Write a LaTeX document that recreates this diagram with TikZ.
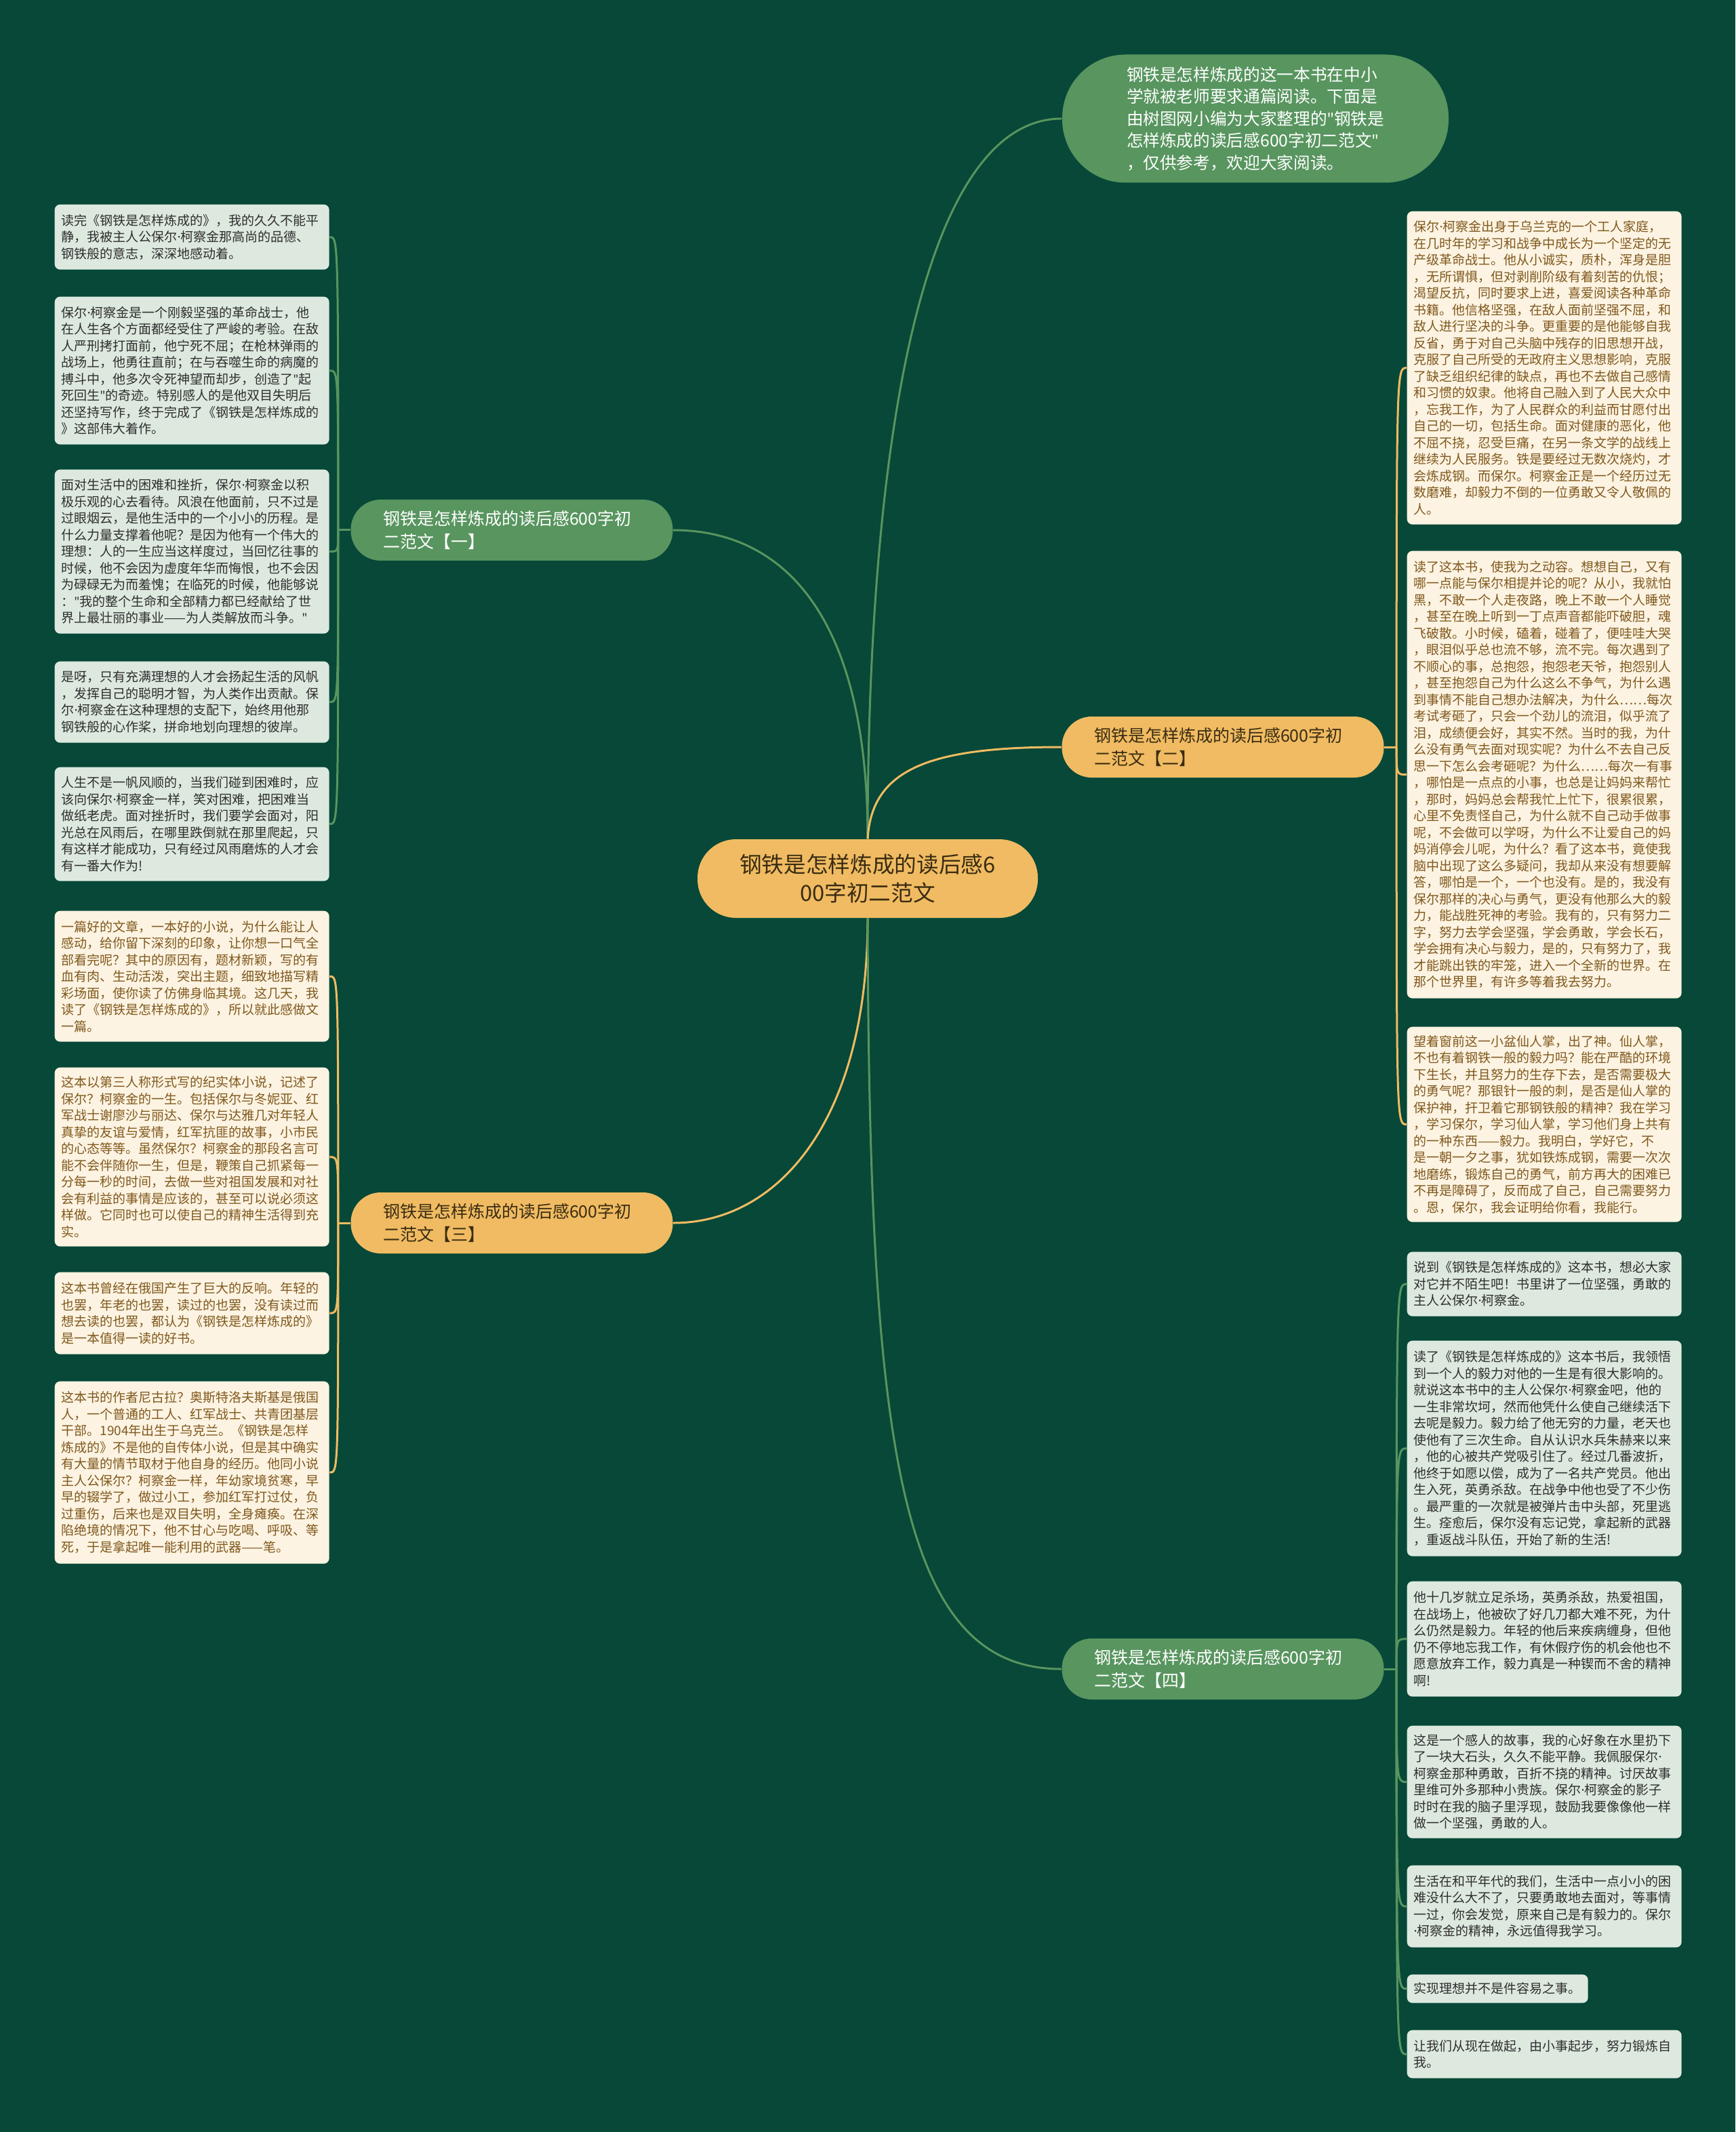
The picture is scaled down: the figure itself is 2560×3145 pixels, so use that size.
\documentclass[tikz,border=0pt]{standalone}
\usepackage{fontspec}
\setmainfont{Noto Sans CJK SC}
\newfontfamily\lf{Noto Sans}
\newcommand\md{{\lf ·}}
\newcommand\qt{{\lf "}}
\definecolor{bgc}{HTML}{074838}
\definecolor{ngreen}{HTML}{58955F}
\definecolor{norange}{HTML}{F0BB62}
\definecolor{lgreen}{HTML}{DDE9DF}
\definecolor{lcream}{HTML}{FCF3E2}
\definecolor{lgtext}{HTML}{2E2E2E}
\definecolor{lctext}{HTML}{80581C}
\definecolor{otext}{HTML}{3A2C12}
\begin{document}
\begin{tikzpicture}[x=0.3pt,y=-0.3pt,
  leafbase/.style={anchor=north west, rounded corners=2.4pt, align=left, inner xsep=3pt, inner ysep=2pt, font=\fontsize{5.7pt}{7.35pt}\selectfont},
  leafg/.style={leafbase, fill=lgreen, text=lgtext, text width=115.5pt},
  leafc/.style={leafbase, fill=lcream, text=lctext, text width=115.5pt},
  lh/.style={minimum height=#1*0.3pt},
  branchbase/.style={rounded corners=13.2pt, minimum height=27pt, inner xsep=14.25pt, text width=114pt, align=left, font=\fontsize{7.5pt}{10.2pt}\selectfont},
  branchg/.style={branchbase, fill=ngreen, text=white},
  brancho/.style={branchbase, fill=norange, text=otext},
  gl/.style={draw=ngreen, line width=0.9pt},
  ol/.style={draw=norange, line width=0.9pt}
]
\path[use as bounding box, fill=bgc] (0,0) rectangle (2560,3145);

% central and top
\node[fill=norange, text=otext, rounded corners=17pt, minimum width=150.6pt, minimum height=34.8pt, align=center, font=\fontsize{9.8pt}{12.6pt}\selectfont] (c) at (1280,1296) {钢铁是怎样炼成的读后感6\\00字初二范文};
\node[fill=ngreen, text=white, rounded corners=28pt, minimum width=171pt, minimum height=56.7pt, align=left, font=\fontsize{7.4pt}{9.75pt}\selectfont] (top) at (1852,175) {钢铁是怎样炼成的这一本书在中小\\
学就被老师要求通篇阅读。下面是\\
由树图网小编为大家整理的\qt 钢铁是\\
怎样炼成的读后感600字初二范文\qt\\
，仅供参考，欢迎大家阅读。};

% branches
\node[branchg] (b1) at (755,782) {钢铁是怎样炼成的读后感600字初\\二范文【一】};
\node[brancho] (b2) at (1804,1102) {钢铁是怎样炼成的读后感600字初\\二范文【二】};
\node[brancho] (b3) at (755,1804) {钢铁是怎样炼成的读后感600字初\\二范文【三】};
\node[branchg] (b4) at (1804,2462) {钢铁是怎样炼成的读后感600字初\\二范文【四】};

% left leaves of [一]
\node[leafg, lh=96] (l1) at (80,301) {读完《钢铁是怎样炼成的》，我的久久不能平\\
静，我被主人公保尔\md 柯察金那高尚的品德、\\
钢铁般的意志，深深地感动着。};
\node[leafg, lh=218] (l2) at (80,437) {保尔\md 柯察金是一个刚毅坚强的革命战士，他\\
在人生各个方面都经受住了严峻的考验。在敌\\
人严刑拷打面前，他宁死不屈；在枪林弹雨的\\
战场上，他勇往直前；在与吞噬生命的病魔的\\
搏斗中，他多次令死神望而却步，创造了\qt 起\\
死回生\qt 的奇迹。特别感人的是他双目失明后\\
还坚持写作，终于完成了《钢铁是怎样炼成的\\
》这部伟大着作。};
\node[leafg, lh=242] (l3) at (80,692) {面对生活中的困难和挫折，保尔\md 柯察金以积\\
极乐观的心去看待。风浪在他面前，只不过是\\
过眼烟云，是他生活中的一个小小的历程。是\\
什么力量支撑着他呢？是因为他有一个伟大的\\
理想：人的一生应当这样度过，当回忆往事的\\
时候，他不会因为虚度年华而悔恨，也不会因\\
为碌碌无为而羞愧；在临死的时候，他能够说\\
：\qt 我的整个生命和全部精力都已经献给了世\\
界上最壮丽的事业——为人类解放而斗争。\qt};
\node[leafg, lh=120] (l4) at (80,975) {是呀，只有充满理想的人才会扬起生活的风帆\\
，发挥自己的聪明才智，为人类作出贡献。保\\
尔\md 柯察金在这种理想的支配下，始终用他那\\
钢铁般的心作桨，拼命地划向理想的彼岸。};
\node[leafg, lh=168] (l5) at (80,1131) {人生不是一帆风顺的，当我们碰到困难时，应\\
该向保尔\md 柯察金一样，笑对困难，把困难当\\
做纸老虎。面对挫折时，我们要学会面对，阳\\
光总在风雨后，在哪里跌倒就在那里爬起，只\\
有这样才能成功，只有经过风雨磨炼的人才会\\
有一番大作为!};

% left leaves of [三]
\node[leafc, lh=193] (l6) at (80,1343) {一篇好的文章，一本好的小说，为什么能让人\\
感动，给你留下深刻的印象，让你想一口气全\\
部看完呢？其中的原因有，题材新颖，写的有\\
血有肉、生动活泼，突出主题，细致地描写精\\
彩场面，使你读了仿佛身临其境。这几天，我\\
读了《钢铁是怎样炼成的》，所以就此感做文\\
一篇。};
\node[leafc, lh=264] (l7) at (80,1574) {这本以第三人称形式写的纪实体小说，记述了\\
保尔？柯察金的一生。包括保尔与冬妮亚、红\\
军战士谢廖沙与丽达、保尔与达雅几对年轻人\\
真挚的友谊与爱情，红军抗匪的故事，小市民\\
的心态等等。虽然保尔？柯察金的那段名言可\\
能不会伴随你一生，但是，鞭策自己抓紧每一\\
分每一秒的时间，去做一些对祖国发展和对社\\
会有利益的事情是应该的，甚至可以说必须这\\
样做。它同时也可以使自己的精神生活得到充\\
实。};
\node[leafc, lh=121] (l8) at (80,1876) {这本书曾经在俄国产生了巨大的反响。年轻的\\
也罢，年老的也罢，读过的也罢，没有读过而\\
想去读的也罢，都认为《钢铁是怎样炼成的》\\
是一本值得一读的好书。};
\node[leafc, lh=269] (l9) at (80,2037) {这本书的作者尼古拉？奥斯特洛夫斯基是俄国\\
人，一个普通的工人、红军战士、共青团基层\\
干部。1904年出生于乌克兰。《钢铁是怎样\\
炼成的》不是他的自传体小说，但是其中确实\\
有大量的情节取材于他自身的经历。他同小说\\
主人公保尔？柯察金一样，年幼家境贫寒，早\\
早的辍学了，做过小工，参加红军打过仗，负\\
过重伤，后来也是双目失明，全身瘫痪。在深\\
陷绝境的情况下，他不甘心与吃喝、呼吸、等\\
死，于是拿起唯一能利用的武器——笔。};

% right leaves of [二]
\node[leafc, lh=462] (r1) at (2075,311) {保尔\md 柯察金出身于乌兰克的一个工人家庭，\\
在几时年的学习和战争中成长为一个坚定的无\\
产级革命战士。他从小诚实，质朴，浑身是胆\\
，无所谓惧，但对剥削阶级有着刻苦的仇恨；\\
渴望反抗，同时要求上进，喜爱阅读各种革命\\
书籍。他信格坚强，在敌人面前坚强不屈，和\\
敌人进行坚决的斗争。更重要的是他能够自我\\
反省，勇于对自己头脑中残存的旧思想开战，\\
克服了自己所受的无政府主义思想影响，克服\\
了缺乏组织纪律的缺点，再也不去做自己感情\\
和习惯的奴隶。他将自己融入到了人民大众中\\
，忘我工作，为了人民群众的利益而甘愿付出\\
自己的一切，包括生命。面对健康的恶化，他\\
不屈不挠，忍受巨痛，在另一条文学的战线上\\
继续为人民服务。铁是要经过无数次烧灼，才\\
会炼成钢。而保尔。柯察金正是一个经历过无\\
数磨难，却毅力不倒的一位勇敢又令人敬佩的\\
人。};
\node[leafc, lh=660] (r2) at (2075,812) {读了这本书，使我为之动容。想想自己，又有\\
哪一点能与保尔相提并论的呢？从小，我就怕\\
黑，不敢一个人走夜路，晚上不敢一个人睡觉\\
，甚至在晚上听到一丁点声音都能吓破胆，魂\\
飞破散。小时候，磕着，碰着了，便哇哇大哭\\
，眼泪似乎总也流不够，流不完。每次遇到了\\
不顺心的事，总抱怨，抱怨老天爷，抱怨别人\\
，甚至抱怨自己为什么这么不争气，为什么遇\\
到事情不能自己想办法解决，为什么……每次\\
考试考砸了，只会一个劲儿的流泪，似乎流了\\
泪，成绩便会好，其实不然。当时的我，为什\\
么没有勇气去面对现实呢？为什么不去自己反\\
思一下怎么会考砸呢？为什么……每次一有事\\
，哪怕是一点点的小事，也总是让妈妈来帮忙\\
，那时，妈妈总会帮我忙上忙下，很累很累，\\
心里不免责怪自己，为什么就不自己动手做事\\
呢，不会做可以学呀，为什么不让爱自己的妈\\
妈消停会儿呢，为什么？看了这本书，竟使我\\
脑中出现了这么多疑问，我却从来没有想要解\\
答，哪怕是一个，一个也没有。是的，我没有\\
保尔那样的决心与勇气，更没有他那么大的毅\\
力，能战胜死神的考验。我有的，只有努力二\\
字，努力去学会坚强，学会勇敢，学会长石，\\
学会拥有决心与毅力，是的，只有努力了，我\\
才能跳出铁的牢笼，进入一个全新的世界。在\\
那个世界里，有许多等着我去努力。};
\node[leafc, lh=288] (r3) at (2075,1514) {望着窗前这一小盆仙人掌，出了神。仙人掌，\\
不也有着钢铁一般的毅力吗？能在严酷的环境\\
下生长，并且努力的生存下去，是否需要极大\\
的勇气呢？那银针一般的刺，是否是仙人掌的\\
保护神，扞卫着它那钢铁般的精神？我在学习\\
，学习保尔，学习仙人掌，学习他们身上共有\\
的一种东西——毅力。我明白，学好它，不\\
是一朝一夕之事，犹如铁炼成钢，需要一次次\\
地磨练，锻炼自己的勇气，前方再大的困难已\\
不再是障碍了，反而成了自己，自己需要努力\\
。恩，保尔，我会证明给你看，我能行。};

% right leaves of [四]
\node[leafg, lh=95] (r4) at (2075,1846) {说到《钢铁是怎样炼成的》这本书，想必大家\\
对它并不陌生吧！书里讲了一位坚强，勇敢的\\
主人公保尔\md 柯察金。};
\node[leafg, lh=318] (r5) at (2075,1977) {读了《钢铁是怎样炼成的》这本书后，我领悟\\
到一个人的毅力对他的一生是有很大影响的。\\
就说这本书中的主人公保尔\md 柯察金吧，他的\\
一生非常坎坷，然而他凭什么使自己继续活下\\
去呢是毅力。毅力给了他无穷的力量，老天也\\
使他有了三次生命。自从认识水兵朱赫来以来\\
，他的心被共产党吸引住了。经过几番波折，\\
他终于如愿以偿，成为了一名共产党员。他出\\
生入死，英勇杀敌。在战争中他也受了不少伤\\
。最严重的一次就是被弹片击中头部，死里逃\\
生。痊愈后，保尔没有忘记党，拿起新的武器\\
，重返战斗队伍，开始了新的生活!};
\node[leafg, lh=170] (r6) at (2075,2332) {他十几岁就立足杀场，英勇杀敌，热爱祖国，\\
在战场上，他被砍了好几刀都大难不死，为什\\
么仍然是毅力。年轻的他后来疾病缠身，但他\\
仍不停地忘我工作，有休假疗伤的机会他也不\\
愿意放弃工作，毅力真是一种锲而不舍的精神\\
啊!};
\node[leafg, lh=166] (r7) at (2075,2545) {这是一个感人的故事，我的心好象在水里扔下\\
了一块大石头，久久不能平静。我佩服保尔\md\\
柯察金那种勇敢，百折不挠的精神。讨厌故事\\
里维可外多那种小贵族。保尔\md 柯察金的影子\\
时时在我的脑子里浮现，鼓励我要像像他一样\\
做一个坚强，勇敢的人。};
\node[leafg, lh=121] (r8) at (2075,2751) {生活在和平年代的我们，生活中一点小小的困\\
难没什么大不了，只要勇敢地去面对，等事情\\
一过，你会发觉，原来自己是有毅力的。保尔\\
\md 柯察金的精神，永远值得我学习。};
\node[leafbase, fill=lgreen, text=lgtext, lh=42] (r9) at (2075,2912) {实现理想并不是件容易之事。};
\node[leafg, lh=71] (r10) at (2075,2994) {让我们从现在做起，由小事起步，努力锻炼自\\
我。};

% main connectors
\draw[gl] (c.north) .. controls (1280,700) and (1350,175) .. (top.west);
\draw[gl] (c.north) .. controls (1280,900) and (1150,782) .. (b1.east);
\draw[ol] (c.north) .. controls (1286,1135) and (1370,1102) .. (b2.west);
\draw[ol] (c.south) .. controls (1280,1650) and (1150,1804) .. (b3.east);
\draw[gl] (c.south) .. controls (1282,2150) and (1330,2462) .. (b4.west);

% junctions
\coordinate (j1) at ([xshift=-5.4pt]b1.west);
\coordinate (j2) at ([xshift=5.4pt]b2.east);
\coordinate (j3) at ([xshift=-5.4pt]b3.west);
\coordinate (j4) at ([xshift=5.4pt]b4.east);
\draw[gl] (b1.west) -- (j1);
\draw[ol] (b2.east) -- (j2);
\draw[ol] (b3.west) -- (j3);
\draw[gl] (b4.east) -- (j4);

\foreach \l in {l1,l2,l3,l4,l5}
  \draw[gl] (j1) .. controls (j1 |- \l.east) .. (\l.east);
\foreach \l in {r1,r2,r3}
  \draw[ol] (j2) .. controls (j2 |- \l.west) .. (\l.west);
\foreach \l in {l6,l7,l8,l9}
  \draw[ol] (j3) .. controls (j3 |- \l.east) .. (\l.east);
\foreach \l in {r4,r5,r6,r7,r8,r9,r10}
  \draw[gl] (j4) .. controls (j4 |- \l.west) .. (\l.west);
\end{tikzpicture}
\end{document}
